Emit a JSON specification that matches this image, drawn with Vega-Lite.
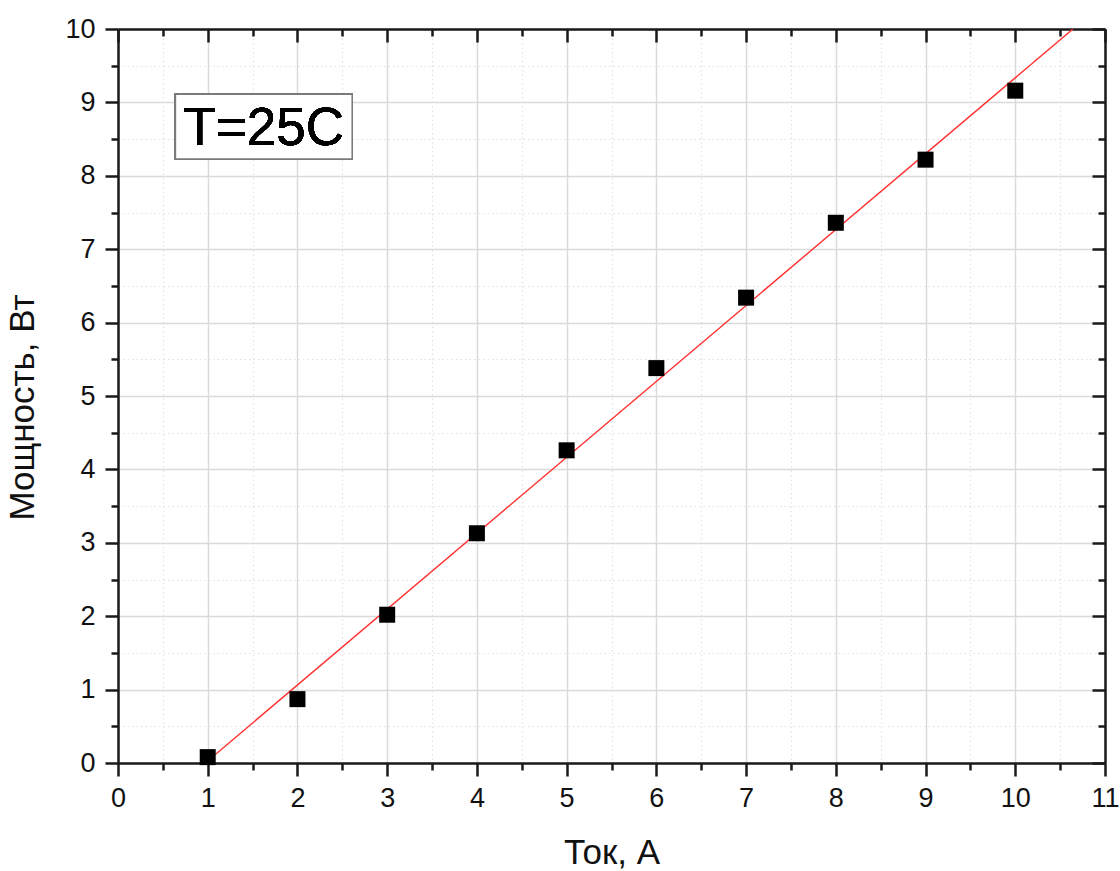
{
  "$schema": "https://vega.github.io/schema/vega-lite/v6.json",
  "width": 987,
  "height": 734,
  "autosize": {"type": "none"},
  "padding": {"left": 118, "top": 29, "right": 15, "bottom": 108},
  "background": "white",
  "config": {
    "view": {"stroke": null},
    "font": "Liberation Sans",
    "axis": {
      "domainColor": "#1a1a1a",
      "domainWidth": 2.5,
      "tickColor": "#1a1a1a",
      "tickWidth": 2.5,
      "labelColor": "#111111",
      "titleColor": "#111111",
      "labelFont": "Liberation Sans",
      "titleFont": "Liberation Sans",
      "labelFontSize": 27,
      "titleFontSize": 35,
      "titleFontWeight": "normal",
      "labelFlush": false,
      "labelOverlap": false
    }
  },
  "data": {
    "values": [
      {"current": 1, "power": 0.08},
      {"current": 2, "power": 0.87},
      {"current": 3, "power": 2.02},
      {"current": 4, "power": 3.13},
      {"current": 5, "power": 4.26},
      {"current": 6, "power": 5.38},
      {"current": 7, "power": 6.34},
      {"current": 8, "power": 7.36},
      {"current": 9, "power": 8.22},
      {"current": 10, "power": 9.16}
    ]
  },
  "resolve": {"axis": {"x": "independent", "y": "independent"}},
  "layer": [
    {
      "mark": {"type": "point", "opacity": 0},
      "encoding": {
        "x": {
          "field": "current",
          "type": "quantitative",
          "scale": {"domain": [0, 11], "nice": false, "zero": false},
          "axis": {
            "orient": "bottom",
            "title": "Ток, А",
            "titlePadding": 24,
            "values": [0, 0.5, 1, 1.5, 2, 2.5, 3, 3.5, 4, 4.5, 5, 5.5, 6, 6.5, 7, 7.5, 8, 8.5, 9, 9.5, 10, 10.5, 11],
            "labelExpr": "datum.value % 1 === 0 ? format(datum.value, 'd') : ''",
            "labelPadding": 9,
            "tickSize": {"condition": {"test": "datum.value % 1 === 0", "value": 13}, "value": 7},
            "grid": true,
            "gridColor": {"condition": {"test": "datum.value % 1 === 0", "value": "#dadada"}, "value": "#e2e2e2"},
            "gridWidth": {"condition": {"test": "datum.value % 1 === 0", "value": 1.5}, "value": 1.2},
            "gridDash": {"condition": {"test": "datum.value % 1 === 0", "value": []}, "value": [1.5, 3]}
          }
        },
        "y": {
          "field": "power",
          "type": "quantitative",
          "scale": {"domain": [0, 10], "nice": false, "zero": false},
          "axis": {
            "orient": "left",
            "title": "Мощность, Вт",
            "titlePadding": 24,
            "titleY": 378,
            "values": [0, 0.5, 1, 1.5, 2, 2.5, 3, 3.5, 4, 4.5, 5, 5.5, 6, 6.5, 7, 7.5, 8, 8.5, 9, 9.5, 10],
            "labelExpr": "datum.value % 1 === 0 ? format(datum.value, 'd') : ''",
            "labelPadding": 10,
            "tickSize": {"condition": {"test": "datum.value % 1 === 0", "value": 13}, "value": 7},
            "grid": true,
            "gridColor": {"condition": {"test": "datum.value % 1 === 0", "value": "#dadada"}, "value": "#e2e2e2"},
            "gridWidth": {"condition": {"test": "datum.value % 1 === 0", "value": 1.5}, "value": 1.2},
            "gridDash": {"condition": {"test": "datum.value % 1 === 0", "value": []}, "value": [1.5, 3]}
          }
        }
      }
    },
    {
      "mark": {"type": "point", "opacity": 0},
      "encoding": {
        "x": {
          "field": "current",
          "type": "quantitative",
          "axis": {
            "orient": "top",
            "title": null,
            "labels": false,
            "grid": false,
            "values": [0, 0.5, 1, 1.5, 2, 2.5, 3, 3.5, 4, 4.5, 5, 5.5, 6, 6.5, 7, 7.5, 8, 8.5, 9, 9.5, 10, 10.5, 11],
            "tickSize": {"condition": {"test": "datum.value % 1 === 0", "value": -13}, "value": -7}
          }
        },
        "y": {
          "field": "power",
          "type": "quantitative",
          "axis": {
            "orient": "right",
            "title": null,
            "labels": false,
            "grid": false,
            "values": [0, 0.5, 1, 1.5, 2, 2.5, 3, 3.5, 4, 4.5, 5, 5.5, 6, 6.5, 7, 7.5, 8, 8.5, 9, 9.5, 10],
            "tickSize": {"condition": {"test": "datum.value % 1 === 0", "value": -13}, "value": -7}
          }
        }
      }
    },
    {
      "mark": {"type": "rect", "fill": "white", "stroke": "#7a7a7a", "strokeWidth": 1.5},
      "encoding": {
        "x": {"datum": 0.64, "type": "quantitative", "axis": null},
        "x2": {"datum": 2.61},
        "y": {"datum": 8.23, "type": "quantitative", "axis": null},
        "y2": {"datum": 9.11}
      }
    },
    {
      "mark": {"type": "text", "fontSize": 53, "font": "Liberation Sans", "color": "#000000", "align": "center", "baseline": "middle", "dy": 2},
      "encoding": {
        "x": {"datum": 1.625, "type": "quantitative", "axis": null},
        "y": {"datum": 8.67, "type": "quantitative", "axis": null},
        "text": {"value": "T=25C"}
      }
    },
    {
      "transform": [
        {"regression": "power", "on": "current", "extent": [0.97, 10.64]}
      ],
      "mark": {"type": "line", "color": "#ff3030", "strokeWidth": 1.4, "clip": true},
      "encoding": {
        "x": {"field": "current", "type": "quantitative", "axis": null},
        "y": {"field": "power", "type": "quantitative", "axis": null}
      }
    },
    {
      "mark": {"type": "point", "shape": "square", "filled": true, "color": "#000000", "opacity": 1, "size": 256},
      "encoding": {
        "x": {"field": "current", "type": "quantitative", "axis": null},
        "y": {"field": "power", "type": "quantitative", "axis": null}
      }
    }
  ]
}
